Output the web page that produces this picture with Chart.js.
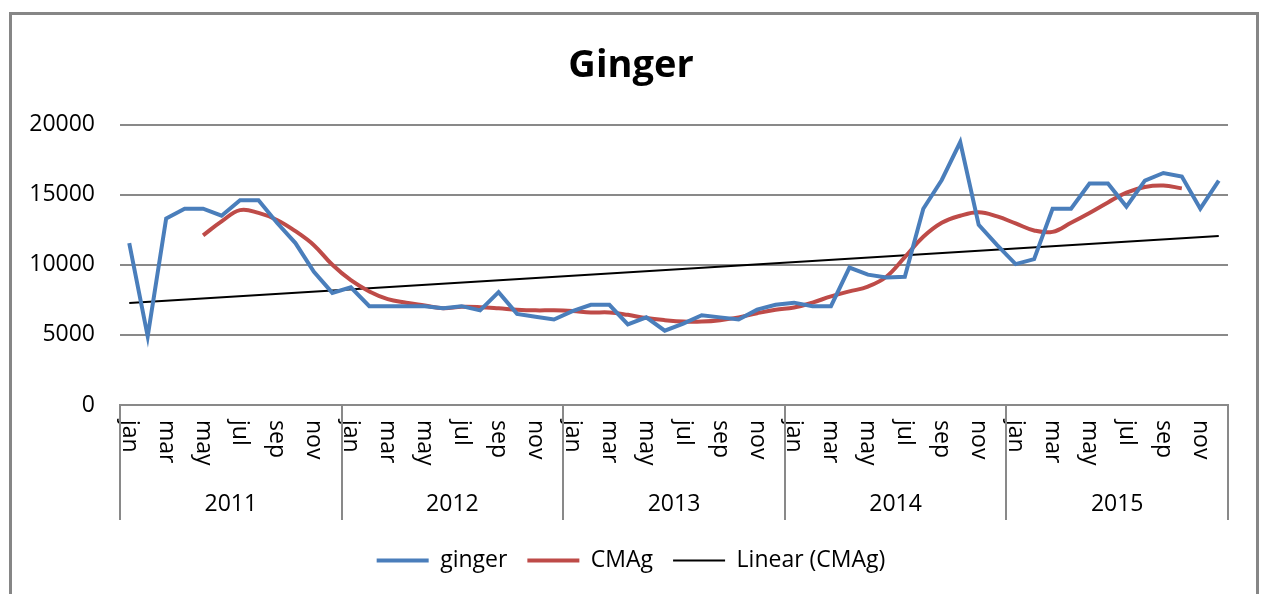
<!DOCTYPE html>
<html>
<head>
<meta charset="utf-8">
<title>Ginger</title>
<script src="https://cdn.jsdelivr.net/npm/chart.js@4.4.1/dist/chart.umd.min.js"></script>
<style>
  html, body { margin: 0; padding: 0; background: #fff; }
  canvas { display: block; }
</style>
</head>
<body>
<canvas id="ginger" width="1262" height="594"></canvas>
<script>
// data
const years = ['2011', '2012', '2013', '2014', '2015'];
const months = ['jan', 'feb', 'mar', 'apr', 'may', 'jun', 'jul', 'aug', 'sep', 'oct', 'nov', 'dec'];

const ginger = [
  11550, 4900, 13300, 14000, 14000, 13500, 14600, 14600, 13000, 11550, 9500, 8000,
  8400, 7050, 7050, 7050, 7050, 6900, 7050, 6750, 8050, 6500, 6300, 6100,
  6700, 7150, 7150, 5750, 6250, 5300, 5800, 6400, 6250, 6100, 6800, 7150,
  7300, 7050, 7050, 9800, 9300, 9100, 9150, 14000, 16050, 18750, 12850, 11400,
  10050, 10400, 14000, 14000, 15800, 15800, 14150, 16000, 16550, 16300, 14000, 16000
];

const cmag = [
  null, null, null, null, 12100, 13100, 13900, 13700, 13200, 12400, 11400, 10000,
  8900, 8100, 7550, 7300, 7100, 6900, 7000, 6980, 6900, 6800, 6750, 6750,
  6700, 6600, 6600, 6430, 6200, 6050, 5950, 5950, 6050, 6250, 6550, 6800,
  6950, 7300, 7750, 8100, 8450, 9150, 10550, 12000, 13000, 13500, 13750, 13450,
  12950, 12450, 12350, 13000, 13700, 14450, 15150, 15550, 15650, 15450, null, null
];

// linear trendline of CMAg, value at first and last month
const trendStart = 7280;
const trendEnd = 12050;

const yTicks = [0, 5000, 10000, 15000, 20000];

// build category list
const labels = [];
years.forEach(y => months.forEach(m => labels.push(m)));
const trend = labels.map((_, i) => i === 0 ? trendStart : (i === labels.length - 1 ? trendEnd : null));

const FONT = "'Open Sans', 'DejaVu Sans', sans-serif";
const GRID = '#898989';

// frame, month labels, year labels and separators
const excelAxis = {
  id: 'excelAxis',
  beforeDraw(chart) {
    const c = chart.ctx;
    c.save();
    c.fillStyle = '#fff';
    c.fillRect(0, 0, chart.width, chart.height);
    c.strokeStyle = '#868686';
    c.lineWidth = 3;
    c.strokeRect(10.5, 13.5, 1247, 600);
    c.restore();
  },
  afterDraw(chart) {
    const c = chart.ctx;
    const x = chart.scales.x;
    const area = chart.chartArea;
    const axisY = area.bottom;
    const half = (x.getPixelForValue(1) - x.getPixelForValue(0)) / 2;
    c.save();
    c.fillStyle = '#000';
    c.font = '23px ' + FONT;
    // month labels, every other one, rotated to read downward
    labels.forEach((m, i) => {
      if (i % 2) return;
      c.save();
      c.translate(x.getPixelForValue(i), axisY + 15);
      c.rotate(Math.PI / 2);
      c.textAlign = 'left';
      c.textBaseline = 'middle';
      c.fillText(m, 0, 0);
      c.restore();
    });
    // year groups
    c.strokeStyle = GRID;
    c.lineWidth = 2;
    c.textAlign = 'center';
    c.textBaseline = 'middle';
    years.forEach((yr, k) => {
      const first = k * 12, last = k * 12 + 11;
      const x0 = x.getPixelForValue(first) - half;
      const x1 = x.getPixelForValue(last) + half;
      c.fillText(yr, (x0 + x1) / 2, axisY + 99);
      c.beginPath();
      c.moveTo(Math.round(x0), axisY);
      c.lineTo(Math.round(x0), axisY + 115);
      if (k === years.length - 1) {
        c.moveTo(Math.round(x1), axisY);
        c.lineTo(Math.round(x1), axisY + 115);
      }
      c.stroke();
    });
    c.restore();
  }
};

const ctx = document.getElementById('ginger').getContext('2d');
const chart = new Chart(ctx, {
  type: 'line',
  data: {
    labels: labels,
    datasets: [{
      label: 'ginger',
      data: ginger,
      borderColor: '#4a7ebb',
      backgroundColor: '#4a7ebb',
      borderWidth: 4,
      pointRadius: 0,
      tension: 0
    }, {
      label: 'CMAg',
      data: cmag,
      borderColor: '#be4b48',
      backgroundColor: '#be4b48',
      borderWidth: 4,
      pointRadius: 0,
      tension: 0.4
    }, {
      label: 'Linear (CMAg)',
      data: trend,
      borderColor: '#000',
      backgroundColor: '#000',
      borderWidth: 2,
      pointRadius: 0,
      spanGaps: true
    }]
  },
  options: {
    responsive: false,
    devicePixelRatio: 1,
    animation: false,
    layout: { padding: { left: 20, right: 20, top: 0, bottom: 12 } },
    scales: {
      x: {
        offset: true,
        grid: { display: false },
        border: { display: true, color: GRID, width: 2 },
        ticks: { display: false },
        afterFit(scale) { scale.height = 124; }
      },
      y: {
        min: 0,
        max: 20000,
        afterBuildTicks(scale) { scale.ticks = yTicks.map(v => ({ value: v })); },
        grid: { color: GRID, lineWidth: 2, drawTicks: false },
        border: { display: false },
        ticks: {
          padding: 25,
          color: '#000',
          font: { family: FONT, size: 23 },
          callback: v => String(v)
        },
        afterFit(scale) { scale.width = 100; }
      },
      // empty right-hand spacer so the plot ends where the reference's does
      spacer: {
        type: 'linear',
        position: 'right',
        grid: { display: false },
        border: { display: false },
        ticks: { display: false },
        afterFit(scale) { scale.width = 14; }
      }
    },
    plugins: {
      title: {
        display: true,
        text: 'Ginger',
        color: '#000',
        font: { family: FONT, size: 38, weight: 'bold', lineHeight: 1.2 },
        padding: { top: 43, bottom: 36 }
      },
      legend: {
        position: 'bottom',
        labels: {
          color: '#000',
          font: { family: FONT, size: 23 },
          boxWidth: 52,
          boxHeight: 0,
          padding: 20
        }
      },
      tooltip: { enabled: false }
    }
  },
  plugins: [excelAxis]
});
</script>
</body>
</html>
